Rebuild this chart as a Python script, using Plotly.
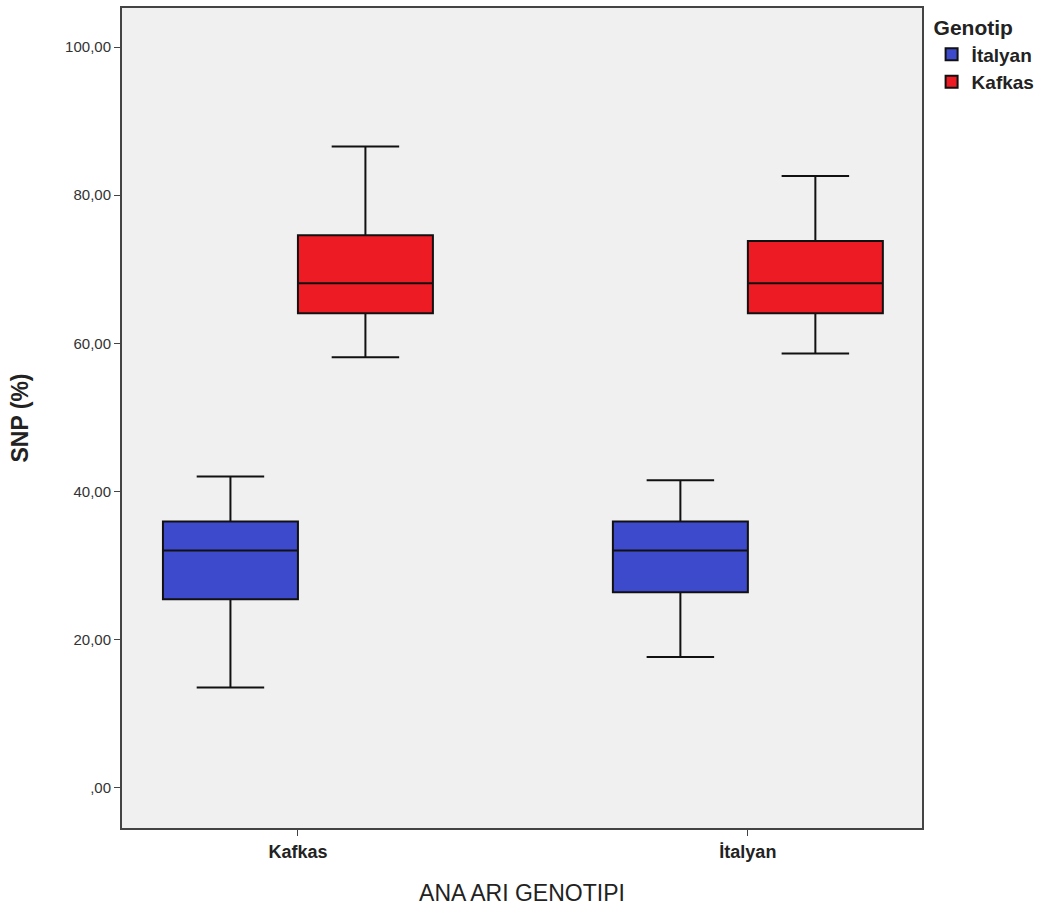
import plotly.graph_objects as go

categories = ["Kafkas", "İtalyan"]
series_names = ["İtalyan", "Kafkas"]
colors = ["#3e4acc", "#ed1c24"]

# per series: values for categories [Kafkas, İtalyan]
lower = {"İtalyan": [13.5, 17.6], "Kafkas": [58.1, 58.6]}
q1 = {"İtalyan": [25.4, 26.35], "Kafkas": [64.05, 64.05]}
median = {"İtalyan": [32.0, 32.0], "Kafkas": [68.1, 68.1]}
q3 = {"İtalyan": [35.9, 35.9], "Kafkas": [74.6, 73.8]}
upper = {"İtalyan": [42.0, 41.5], "Kafkas": [86.6, 82.6]}

y_tickvals = [0, 20, 40, 60, 80, 100]
y_ticktext = [",00", "20,00", "40,00", "60,00", "80,00", "100,00"]

fig = go.Figure()
for name, col in zip(series_names, colors):
    fig.add_trace(go.Box(
        name="<b>" + name + "</b>",
        x=categories,
        lowerfence=lower[name],
        q1=q1[name],
        median=median[name],
        q3=q3[name],
        upperfence=upper[name],
        fillcolor=col,
        line=dict(color="#111111", width=2),
        whiskerwidth=0.5,
        boxpoints=False,
        hoverinfo="skip",
    ))

fig.update_layout(
    width=1043, height=910,
    margin=dict(l=122, r=121, t=8, b=82, autoexpand=False),
    paper_bgcolor="white",
    plot_bgcolor="#f0f0f0",
    boxmode="group",
    boxgap=0.4,
    boxgroupgap=0,
    font=dict(family="Liberation Sans, Arial, sans-serif", color="#222"),
    legend=dict(
        x=1.012, y=1.0, xanchor="left", yanchor="top",
        title=dict(text="<b>Genotip</b>", font=dict(size=21, color="#222")),
        font=dict(size=19, color="#222"),
        itemsizing="constant",
        tracegroupgap=0,
    ),
    xaxis=dict(
        type="category",
        range=[-0.391, 1.387],
        showgrid=False,
        showline=True, linecolor="#444", linewidth=2, mirror=True,
        ticks="outside", ticklen=6, tickcolor="#444",
        tickfont=dict(size=18, color="#222", family="Liberation Sans, Arial, sans-serif"),
        tickvals=categories,
        ticktext=["<b>Kafkas</b>", "<b>İtalyan</b>"],
        title=dict(text="ANA ARI GENOTIPI", font=dict(size=23, color="#222"), standoff=24),
    ),
    yaxis=dict(
        range=[-5.5, 105.3],
        showgrid=False, zeroline=False,
        showline=True, linecolor="#444", linewidth=2, mirror=True,
        ticks="outside", ticklen=6, tickcolor="#444",
        tickvals=y_tickvals, ticktext=y_ticktext,
        tickfont=dict(size=15, color="#333"),
        title=dict(text="<b>SNP (%)</b>", font=dict(size=23, color="#222"), standoff=30),
    ),
)

fig.write_html("out.html")
